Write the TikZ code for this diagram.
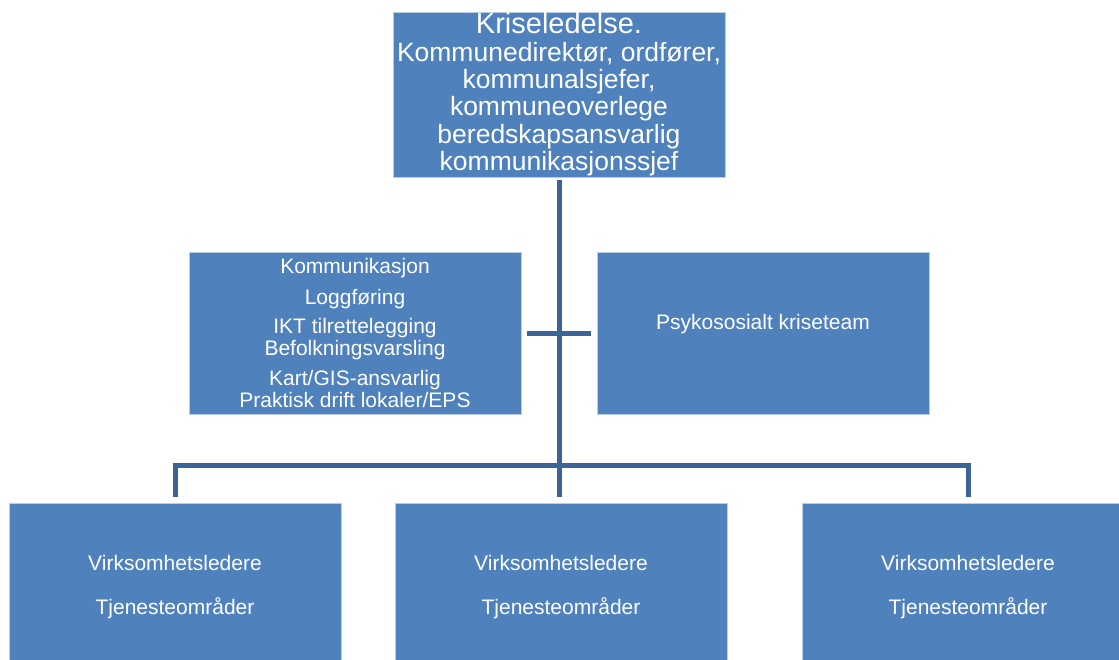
\documentclass[tikz,border=0pt]{standalone}
\usepackage{fontspec}
\setmainfont{Liberation Sans}
\usetikzlibrary{positioning}
\definecolor{boxblue}{HTML}{4F81BD}
\definecolor{boxedge}{HTML}{B9CDE5}
\definecolor{linkblue}{HTML}{3D6496}
\begin{document}
\begin{tikzpicture}
[x=1pt,y=-1pt,
 every node/.style={inner sep=0pt,outer sep=0pt,text=white,align=center},
 unit/.style={rectangle,fill=boxblue,draw=boxedge,line width=0.8pt,minimum width=332pt},
 head/.style={unit,minimum height=165pt,font=\fontsize{26.5}{27.4}\selectfont},
 staff/.style={unit,minimum height=162pt,font=\fontsize{21}{21.5}\selectfont},
 field/.style={unit,minimum height=168pt,font=\fontsize{21}{22}\selectfont},
 label/.style={draw=none,fill=none,font=\fontsize{21}{22}\selectfont},
 link/.style={draw=linkblue,line width=5pt}]
\useasboundingbox (0,0) rectangle (1119,659);
\clip (0,0) rectangle (1119,659);

\node[head] (lead) at (559,94.5)
  {{\fontsize{29}{27.4}\selectfont Kriseledelse.}\\Kommunedirektør, ordfører,\\kommunalsjefer,\\kommuneoverlege\\beredskapsansvarlig\\kommunikasjonssjef};
\node[staff] (supp) [on grid,below left=238.5pt and 204pt of lead]
  {Kommunikasjon\\[9pt]Loggføring\\[8pt]IKT tilrettelegging\\Befolkningsvarsling\\[9pt]Kart/GIS-ansvarlig\\Praktisk drift lokaler/EPS};
\node[staff] (psyk) [on grid,below right=238.5pt and 204pt of lead] {};
\node[label] (psykT) [on grid,above=9pt of psyk] {Psykososialt kriseteam};

\node[field] (unitA) at (175,587) {Virksomhetsledere\\[22pt]Tjenesteområder};
\node[field] (unitB) at (561,587) {Virksomhetsledere\\[22pt]Tjenesteområder};
\node[field] (unitC) at (968,587) {Virksomhetsledere\\[22pt]Tjenesteområder};

% connectors
\coordinate (hub)    at (559,465);
\coordinate (crossL) at (527,333);
\coordinate (crossR) at (591,333);
\draw[link,shorten <=3pt] (lead.south) -- (hub);
\draw[link] (crossL) -- (crossR);
\draw[link,shorten >=6pt] (hub) -| (unitA.north);
\draw[link,shorten >=6pt] (hub) -| (unitC.north);
\draw[link,shorten >=6pt] (hub) -- (hub |- unitB.north);
\end{tikzpicture}
\end{document}
